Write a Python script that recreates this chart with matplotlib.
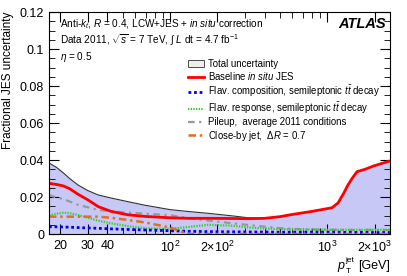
import numpy as np
import matplotlib
matplotlib.use('Agg')
import matplotlib.pyplot as plt
from matplotlib.patches import Patch
from matplotlib.ticker import FixedLocator, MultipleLocator, NullFormatter

plt.rcParams['font.family'] = ['Liberation Sans', 'DejaVu Sans']
plt.rcParams['mathtext.fontset'] = 'custom'
plt.rcParams['mathtext.rm'] = 'Liberation Sans'
plt.rcParams['mathtext.it'] = 'Liberation Sans:italic'

# pT points (GeV) and uncertainty values
pt = [17, 19, 21, 23, 26, 30, 35, 42, 54, 70, 100, 130, 175, 250, 314, 400,
      500, 600, 780, 950, 1070, 1170, 1270, 1350, 1435, 1545, 1750, 1970, 2500]
total = [0.0384, 0.036, 0.033, 0.030, 0.0265, 0.0235, 0.0211, 0.0195, 0.0175, 0.0155,
         0.0132, 0.0122, 0.0112, 0.0098, 0.0088, 0.0085, 0.0094, 0.0106, 0.0122, 0.0135,
         0.0143, 0.017, 0.0221, 0.0265, 0.0301, 0.0338, 0.0352, 0.0369, 0.0396]
baseline = [0.0274, 0.0268, 0.0260, 0.0245, 0.0215, 0.0185, 0.0148, 0.0123, 0.0104, 0.0095,
            0.0088, 0.0085, 0.0085, 0.0084, 0.0083, 0.0085, 0.0094, 0.0106, 0.0121, 0.0134,
            0.0142, 0.0168, 0.022, 0.0264, 0.030, 0.0337, 0.0351, 0.0368, 0.0395]
flav_comp = [0.004, 0.0039, 0.0038, 0.0037, 0.0035, 0.0033, 0.0031, 0.0028, 0.0025, 0.0022,
             0.0018, 0.0015, 0.0013, 0.0012, 0.0011, 0.0011, 0.001, 0.001, 0.001, 0.001,
             0.001, 0.001, 0.0009, 0.0009, 0.0009, 0.0009, 0.0009, 0.0008, 0.0008]
flav_resp = [0.0102, 0.011, 0.0115, 0.0113, 0.0103, 0.0088, 0.0072, 0.0058, 0.0043, 0.0031,
             0.0028, 0.0038, 0.005, 0.0045, 0.0036, 0.003, 0.0027, 0.0025, 0.0024, 0.0023,
             0.0023, 0.0023, 0.0023, 0.0023, 0.0023, 0.0023, 0.0023, 0.0023, 0.0023]
pileup = [0.021, 0.0198, 0.0188, 0.0176, 0.0158, 0.0145, 0.013, 0.0123, 0.0116, 0.011,
          0.0102, 0.0086, 0.0073, 0.0058, 0.0049, 0.004, 0.0032, 0.0028, 0.0025, 0.0024,
          0.0023, 0.0023, 0.0022, 0.0022, 0.0022, 0.0022, 0.0022, 0.0022, 0.0022]
closeby = [0.0094, 0.0094, 0.0094, 0.0094, 0.0094, 0.0094, 0.0094, 0.0088, 0.0076, 0.0062,
           0.0036, 0.0, 0.0, 0.0, 0.0, 0.0, 0.0, 0.0, 0.0, 0.0,
           0.0, 0.0, 0.0, 0.0, 0.0, 0.0, 0.0, 0.0, 0.0]

fig = plt.figure(figsize=(4.07, 2.76), dpi=100)
ax = fig.add_axes([0.1204, 0.152, 0.8376, 0.8045])

s_comp = dict(color='#0000ee', lw=2, ls=(0, (1, 1)))
s_resp = dict(color='#33cc33', lw=1.6, ls=(0, (0.6, 0.6)))
s_pile = dict(color='#999999', lw=1.6, ls=(0, (3, 2, 1, 2)))
s_close = dict(color='#e07020', lw=1.8, ls=(0, (3, 1.5, 1, 1.5)))

ax.fill_between(pt, 0, total, color='#c8c8f6', lw=0)
ax.plot(pt, total, color='#333333', lw=0.8)
ax.plot(pt, pileup, **s_pile)
ax.plot(pt, flav_resp, **s_resp)
ax.plot(pt, flav_comp, **s_comp)
ax.plot(pt, closeby, **s_close)
ax.plot(pt, baseline, color='#ff0000', lw=2)

ax.set_xscale('log')
ax.set_xlim(17, 2500)
ax.set_ylim(0, 0.12)

ax.xaxis.set_major_locator(FixedLocator([20, 30, 40, 100, 200, 1000, 2000]))
ax.set_xticklabels(['20', '30', '40', r'$10^2$', r'$2{\times}10^2$', r'$10^3$', r'$2{\times}10^3$'])
ax.xaxis.set_minor_locator(FixedLocator([50, 60, 70, 80, 90, 300, 400, 500, 600, 700, 800, 900]))
ax.xaxis.set_minor_formatter(NullFormatter())
ax.yaxis.set_major_locator(FixedLocator([0, 0.02, 0.04, 0.06, 0.08, 0.1, 0.12]))
ax.set_yticklabels(['0', '0.02', '0.04', '0.06', '0.08', '0.1', '0.12'])
ax.yaxis.set_minor_locator(MultipleLocator(0.005))
ax.tick_params(which='both', direction='in', top=True, right=True, labelsize=9)
ax.tick_params(which='major', length=7, width=0.8)
ax.tick_params(which='minor', length=4, width=0.6)
ax.tick_params(axis='x', pad=4)

ax.set_ylabel('Fractional JES uncertainty', fontsize=8.5, loc='top')

# x label built from pieces so the sub/superscript sit like the original
fig.text(0.828, 0.026, 'p', fontsize=9, style='italic', va='baseline')
fig.text(0.849, 0.052, 'jet', fontsize=6, va='baseline')
fig.text(0.849, 0.012, 'T', fontsize=6, va='baseline')
fig.text(0.958, 0.026, '[GeV]', fontsize=9, ha='right', va='baseline')

ax.text(0.032, 0.946, r'Anti-$k_t$, $R$ = 0.4, LCW+JES + $\it{in\ situ}$ correction',
        transform=ax.transAxes, fontsize=7.2, va='center')
ax.text(0.032, 0.874, r'Data 2011, $\sqrt{s}$ = 7 TeV, $\int$ $L$ dt = 4.7 fb$^{-1}$',
        transform=ax.transAxes, fontsize=7.2, va='center')
ax.text(0.032, 0.797, r'$\eta$ = 0.5', transform=ax.transAxes, fontsize=7.2, va='center')
ax.text(0.988, 0.946, 'ATLAS', transform=ax.transAxes, fontsize=10.5, ha='right',
        va='center', weight='bold', style='italic')

handles = [Patch(facecolor='#eeeeee', edgecolor='#333333', lw=0.6),
           plt.Line2D([], [], color='#ff0000', lw=2),
           plt.Line2D([], [], **s_comp),
           plt.Line2D([], [], **s_resp),
           plt.Line2D([], [], **s_pile),
           plt.Line2D([], [], **s_close)]
labels = ['Total uncertainty', r'Baseline $\it{in\ situ}$ JES',
          r'Flav. composition, semileptonic $t\bar{t}$ decay',
          r'Flav. response, semileptonic $t\bar{t}$ decay',
          'Pileup,  average 2011 conditions',
          r'Close-by jet,  $\Delta R$ = 0.7']
ax.legend(handles, labels, loc='upper left', bbox_to_anchor=(0.393, 0.81), frameon=False,
          fontsize=6.9, handlelength=1.7, handletextpad=0.4, labelspacing=0.12, borderpad=0)

fig.savefig('out.png', dpi=100)
